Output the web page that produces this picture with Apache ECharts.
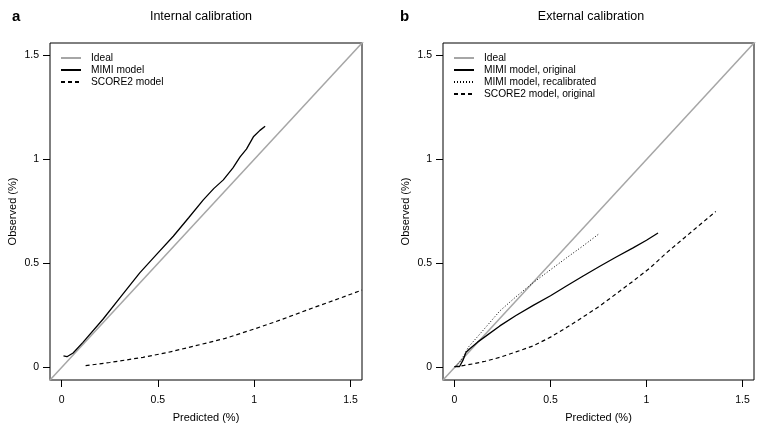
<!DOCTYPE html>
<html>
<head>
<meta charset="utf-8">
<script src="https://cdn.jsdelivr.net/npm/echarts@6/dist/echarts.min.js"></script>
<style>html,body{margin:0;padding:0;background:#fff}#c{width:768px;height:432px}</style>
</head>
<body>
<div id="c"></div>
<script>
// Tick labels
var tickValues = [0, 0.5, 1, 1.5];
// Ideal line (y = x)
var idealX = [-0.1, 1.6];
var idealY = [-0.1, 1.6];
// Panel a: Internal calibration
var aMimiX = [0.01, 0.028, 0.06, 0.111, 0.215, 0.31, 0.406, 0.49, 0.58, 0.66, 0.736, 0.79, 0.84, 0.89, 0.927, 0.96, 0.996, 1.03, 1.057];
var aMimiY = [0.056, 0.052, 0.07, 0.121, 0.232, 0.343, 0.455, 0.54, 0.631, 0.72, 0.806, 0.86, 0.902, 0.96, 1.013, 1.05, 1.109, 1.14, 1.16];
var aScoreX = [0.125, 0.25, 0.423, 0.55, 0.684, 0.85, 1.0, 1.135, 1.3, 1.45, 1.56];
var aScoreY = [0.009, 0.024, 0.049, 0.072, 0.102, 0.14, 0.185, 0.228, 0.285, 0.335, 0.372];
// Panel b: External calibration
var bMimiX = [0, 0.026, 0.043, 0.06, 0.078, 0.12, 0.165, 0.236, 0.32, 0.41, 0.5, 0.583, 0.67, 0.757, 0.84, 0.93, 1.0, 1.06];
var bMimiY = [0.004, 0.005, 0.033, 0.073, 0.089, 0.122, 0.152, 0.2, 0.25, 0.299, 0.345, 0.392, 0.44, 0.487, 0.53, 0.575, 0.612, 0.647];
var bRecalX = [0.005, 0.03, 0.05, 0.074, 0.15, 0.236, 0.32, 0.41, 0.5, 0.583, 0.67, 0.753];
var bRecalY = [0.005, 0.03, 0.06, 0.1, 0.18, 0.272, 0.34, 0.408, 0.47, 0.527, 0.585, 0.643];
var bScoreX = [0, 0.05, 0.1, 0.16, 0.236, 0.32, 0.41, 0.5, 0.583, 0.67, 0.757, 0.84, 0.93, 1.02, 1.104, 1.19, 1.278, 1.361];
var bScoreY = [0.004, 0.01, 0.018, 0.03, 0.049, 0.075, 0.104, 0.146, 0.192, 0.243, 0.296, 0.353, 0.415, 0.48, 0.551, 0.618, 0.686, 0.75];

function zip(xs, ys) { return xs.map(function (x, i) { return [x, ys[i]]; }); }

var FONT = '"Liberation Sans", Arial, Helvetica, sans-serif';
var chart = echarts.init(document.getElementById('c'), null, { renderer: 'canvas' });

function xAxisDef(gi) {
  return {
    type: 'value', gridIndex: gi, min: -0.06, max: 1.56,
    name: 'Predicted (%)', nameLocation: 'middle', nameGap: 32,
    nameTextStyle: { color: '#000', fontSize: 11, fontFamily: FONT },
    axisLine: { show: false, onZero: false },
    splitLine: { show: false },
    axisTick: { show: true, length: 7, inside: false, customValues: tickValues, lineStyle: { color: '#000', width: 1 } },
    axisLabel: { customValues: tickValues, margin: 15, color: '#000', fontSize: 10.5, fontFamily: FONT }
  };
}
function yAxisDef(gi) {
  return {
    type: 'value', gridIndex: gi, min: -0.06, max: 1.56,
    name: 'Observed (%)', nameLocation: 'middle', nameGap: 32, nameRotate: 90,
    nameTextStyle: { color: '#000', fontSize: 11, fontFamily: FONT },
    axisLine: { show: false, onZero: false },
    splitLine: { show: false },
    axisTick: { show: true, length: 7, inside: false, customValues: tickValues, lineStyle: { color: '#000', width: 1 } },
    axisLabel: { customValues: tickValues, margin: 11, color: '#000', fontSize: 10.5, fontFamily: FONT }
  };
}
function lineSeries(name, gi, data, color, width, type) {
  return {
    name: name, type: 'line', xAxisIndex: gi, yAxisIndex: gi,
    data: data, showSymbol: false, symbol: 'none', smooth: false, clip: true,
    animation: false,
    lineStyle: { color: color, width: width, type: type },
    itemStyle: { color: color }
  };
}
function legendDef(left, names) {
  return {
    left: left, top: 52, orient: 'vertical', padding: 0,
    itemWidth: 20, itemHeight: 12, itemGap: 0,
    itemStyle: { opacity: 0 },
    textStyle: { color: '#000', fontSize: 10.2, fontFamily: FONT, lineHeight: 12, padding: [0, 0, 0, 5] },
    data: names,
    selectedMode: false
  };
}

chart.setOption({
  animation: false,
  backgroundColor: '#fff',
  grid: [
    { left: 50, top: 43, width: 312, height: 337, show: true, borderColor: '#000', borderWidth: 1, backgroundColor: 'transparent' },
    { left: 443, top: 43, width: 311, height: 337, show: true, borderColor: '#000', borderWidth: 1, backgroundColor: 'transparent' }
  ],
  xAxis: [xAxisDef(0), xAxisDef(1)],
  yAxis: [yAxisDef(0), yAxisDef(1)],
  legend: [
    legendDef(60, ['Ideal', 'MIMI model', 'SCORE2 model']),
    legendDef(453, ['Ideal ', 'MIMI model, original', 'MIMI model, recalibrated', 'SCORE2 model, original'])
  ],
  graphic: [
    { type: 'text', x: 12, y: 17, style: { text: 'a', font: 'bold 15px ' + FONT, fill: '#000', textVerticalAlign: 'middle' } },
    { type: 'text', x: 201, y: 17, style: { text: 'Internal calibration', font: '12.5px ' + FONT, fill: '#000', textAlign: 'center', textVerticalAlign: 'middle' } },
    { type: 'text', x: 400, y: 17, style: { text: 'b', font: 'bold 15px ' + FONT, fill: '#000', textVerticalAlign: 'middle' } },
    { type: 'text', x: 591, y: 17, style: { text: 'External calibration', font: '12.5px ' + FONT, fill: '#000', textAlign: 'center', textVerticalAlign: 'middle' } }
  ],
  series: [
    lineSeries('Ideal', 0, zip(idealX, idealY), '#a6a6a6', 1.5, 'solid'),
    lineSeries('MIMI model', 0, zip(aMimiX, aMimiY), '#000', 1.3, 'solid'),
    lineSeries('SCORE2 model', 0, zip(aScoreX, aScoreY), '#000', 1.2, [4, 3]),
    lineSeries('Ideal ', 1, zip(idealX, idealY), '#a6a6a6', 1.5, 'solid'),
    lineSeries('MIMI model, original', 1, zip(bMimiX, bMimiY), '#000', 1.3, 'solid'),
    lineSeries('MIMI model, recalibrated', 1, zip(bRecalX, bRecalY), '#000', 1, [1, 2]),
    lineSeries('SCORE2 model, original', 1, zip(bScoreX, bScoreY), '#000', 1.2, [4, 3])
  ]
});
</script>
</body>
</html>
